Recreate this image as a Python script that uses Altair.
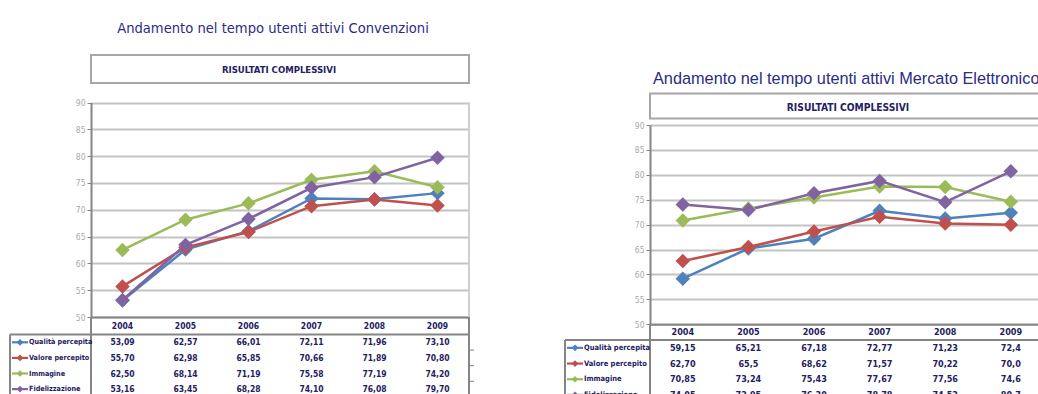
import altair as alt
import pandas as pd

# ---------------------------------------------------------------- data
years = ["2004", "2005", "2006", "2007", "2008", "2009"]
series = ["Qualità percepita", "Valore percepito", "Immagine", "Fidelizzazione"]
series_colors = ["#4f81bd", "#c0504d", "#9bbb59", "#8064a2"]
y_ticks = [50, 55, 60, 65, 70, 75, 80, 85, 90]

# Convenzioni: values as printed in the data table under the chart
conv_qualita = ["53,09", "62,57", "66,01", "72,11", "71,96", "73,10"]
conv_valore = ["55,70", "62,98", "65,85", "70,66", "71,89", "70,80"]
conv_immagine = ["62,50", "68,14", "71,19", "75,58", "77,19", "74,20"]
conv_fidelizzazione = ["53,16", "63,45", "68,28", "74,10", "76,08", "79,70"]

# Mercato Elettronico
mepa_qualita = ["59,15", "65,21", "67,18", "72,77", "71,23", "72,4"]
mepa_valore = ["62,70", "65,5", "68,62", "71,57", "70,22", "70,0"]
mepa_immagine = ["70,85", "73,24", "75,43", "77,67", "77,56", "74,6"]
mepa_fidelizzazione = ["74,05", "72,95", "76,30", "78,78", "74,52", "80,7"]

# ---------------------------------------------------------------- style
W, H = 1038, 394
NAVY = "#1f2163"
TITLE_BLUE = "#2b2b85"
AXIS_DARK = "#858585"
GRID = "#c3c3c3"
BOX = "#a6a6a6"
COND = "DejaVu Sans Condensed, DejaVu Sans, sans-serif"
SANS = "Liberation Sans, Arial, sans-serif"

one = pd.DataFrame({"k": [0]})


def to_frame(columns):
    rows = []
    for name, labels in zip(series, columns):
        for year, lab in zip(years, labels):
            rows.append({"series": name, "year": year, "label": lab,
                         "value": float(lab.replace(",", "."))})
    return pd.DataFrame(rows)


def seg(x, x2, y, y2, color, width=2):
    return alt.Chart(one).mark_rule(color=color, strokeWidth=width).encode(
        x=alt.value(x), x2=alt.value(x2), y=alt.value(y), y2=alt.value(y2))


def label(text, x, y, font, size, color, weight="normal", align="center"):
    return alt.Chart(one).mark_text(
        text=text, font=font, fontSize=size, color=color, fontWeight=weight,
        align=align, baseline="alphabetic").encode(x=alt.value(x), y=alt.value(y))


def panel(df, g):
    color = alt.Color("series:N", scale=alt.Scale(domain=series, range=series_colors),
                      legend=None)
    x_scale = alt.Scale(type="point", domain=years, range=[g["x0"], g["x1"]], padding=0.5)
    y_scale = alt.Scale(domain=[50, 90], range=[g["y50"], g["y90"]], zero=False, nice=False)

    base = alt.Chart(df).encode(
        x=alt.X("year:O", scale=x_scale,
                axis=alt.Axis(orient="bottom", offset=g["y50"] - H, labels=False, ticks=False,
                              grid=False, domainColor=AXIS_DARK, domainWidth=2, title=None)),
        y=alt.Y("value:Q", scale=y_scale,
                axis=alt.Axis(orient="left", offset=-g["x0"], values=y_ticks, grid=True,
                              gridColor=GRID, gridWidth=2, domainColor=AXIS_DARK,
                              domainWidth=2, tickColor=AXIS_DARK, tickSize=4,
                              labelColor="#a9a9a9", labelFont=COND, labelFontSize=8.5,
                              labelPadding=2, title=None)),
        color=color,
    )
    plot = alt.layer(
        base.mark_line(strokeWidth=2.5),
        base.mark_point(shape="diamond", filled=True, size=g["marker"], opacity=1),
    )

    row_scale = alt.Scale(type="band", domain=series,
                          range=[g["row0"], g["row0"] + 4 * g["rowh"]],
                          paddingInner=0, paddingOuter=0)
    tab_x = alt.X("year:O", scale=alt.Scale(type="point", domain=years,
                                             range=[g["x0"], g["x1"]], padding=0.5), axis=None)
    cells = alt.Chart(df).mark_text(
        font=COND, fontSize=g["tsize"], fontWeight="bold", color=NAVY,
        baseline="middle").encode(
        x=tab_x, y=alt.Y("series:N", scale=row_scale, axis=None), text="label:N")
    heads = alt.Chart(pd.DataFrame({"year": years})).mark_text(
        font=COND, fontSize=g["tsize"], fontWeight="bold", color=NAVY,
        baseline="middle").encode(x=tab_x, y=alt.value(g["head_y"]), text="year:N")

    leg = alt.Chart(pd.DataFrame({"series": series}))
    leg_y = alt.Y("series:N", scale=row_scale, axis=None)
    swatch = leg.mark_point(shape="stroke", size=256, strokeWidth=2.2, opacity=1).encode(
        x=alt.value(g["lx"] + 10), y=leg_y, color=color)
    tiny = leg.mark_point(shape="diamond", filled=True, size=45, opacity=1).encode(
        x=alt.value(g["lx"] + 10), y=leg_y, color=color)
    names = leg.mark_text(font=COND, fontSize=g["lsize"], fontWeight="bold",
                          color=NAVY, align="left", baseline="middle").encode(
        x=alt.value(g["lx"] + 19), y=leg_y, text="series:N")

    x0, x1, y50, y90 = g["x0"], g["x1"], g["y50"], g["y90"]
    frame = [
        seg(x1, x1, y90, y50, "#cfcfcf"),
        seg(x1, x1, y50, H + 6, AXIS_DARK),
        seg(x0, x0, y50, H + 6, AXIS_DARK),
        seg(g["lx"], x1, g["row0"], g["row0"], AXIS_DARK),
        seg(g["lx"], g["lx"], g["row0"], H + 6, AXIS_DARK),
    ]
    # small outward ticks on the table's right edge, between the rows
    for k in (1, 2, 3):
        yk = g["row0"] + k * g["rowh"]
        frame.append(seg(x1, x1 + 5, yk, yk, AXIS_DARK, 1))
    box = alt.Chart(one).mark_rect(filled=False, stroke=BOX, strokeWidth=2).encode(
        x=alt.value(g["box"][0]), x2=alt.value(g["box"][1]),
        y=alt.value(g["box"][2]), y2=alt.value(g["box"][3]))
    texts = [
        label(g["title"], g["title_x"], g["title_y"], g["title_font"], g["title_size"],
              TITLE_BLUE, align=g["title_align"]),
        label("RISULTATI COMPLESSIVI", g["sub_x"], g["sub_y"], COND, g["sub_size"],
              NAVY, weight="bold"),
    ]
    return [plot, *frame, box, *texts, cells, heads, swatch, tiny, names]


left = dict(
    x0=91, x1=469, y50=317, y90=102.5, row0=334.5, rowh=15.6, head_y=326, lx=10,
    marker=210, tsize=8.5, lsize=7.2,
    box=(91, 469, 55, 83),
    title="Andamento nel tempo utenti attivi Convenzioni", title_x=273, title_y=33,
    title_font=COND, title_size=14.6, title_align="center",
    sub_x=279, sub_y=73, sub_size=9.5,
)
right = dict(
    x0=650, x1=1043.6, y50=324.3, y90=125, row0=340, rowh=15.7, head_y=332, lx=565,
    marker=210, tsize=9, lsize=7.5,
    box=(650, 1060, 93.5, 118.5),
    title="Andamento nel tempo utenti attivi Mercato Elettronico", title_x=653, title_y=84,
    title_font=SANS, title_size=16.3, title_align="left",
    sub_x=848, sub_y=110.5, sub_size=10.2,
)

layers = panel(to_frame([conv_qualita, conv_valore, conv_immagine, conv_fidelizzazione]), left) + \
    panel(to_frame([mepa_qualita, mepa_valore, mepa_immagine, mepa_fidelizzazione]), right)

chart = alt.layer(*layers).resolve_scale(
    x="independent", y="independent"
).resolve_axis(
    x="independent", y="independent"
).properties(
    width=W, height=H, padding=0,
    autosize=alt.AutoSizeParams(type="none"),
    background="white",
).configure_view(strokeWidth=0)

chart.save("out.html", embed_options={"renderer": "svg", "actions": False})
